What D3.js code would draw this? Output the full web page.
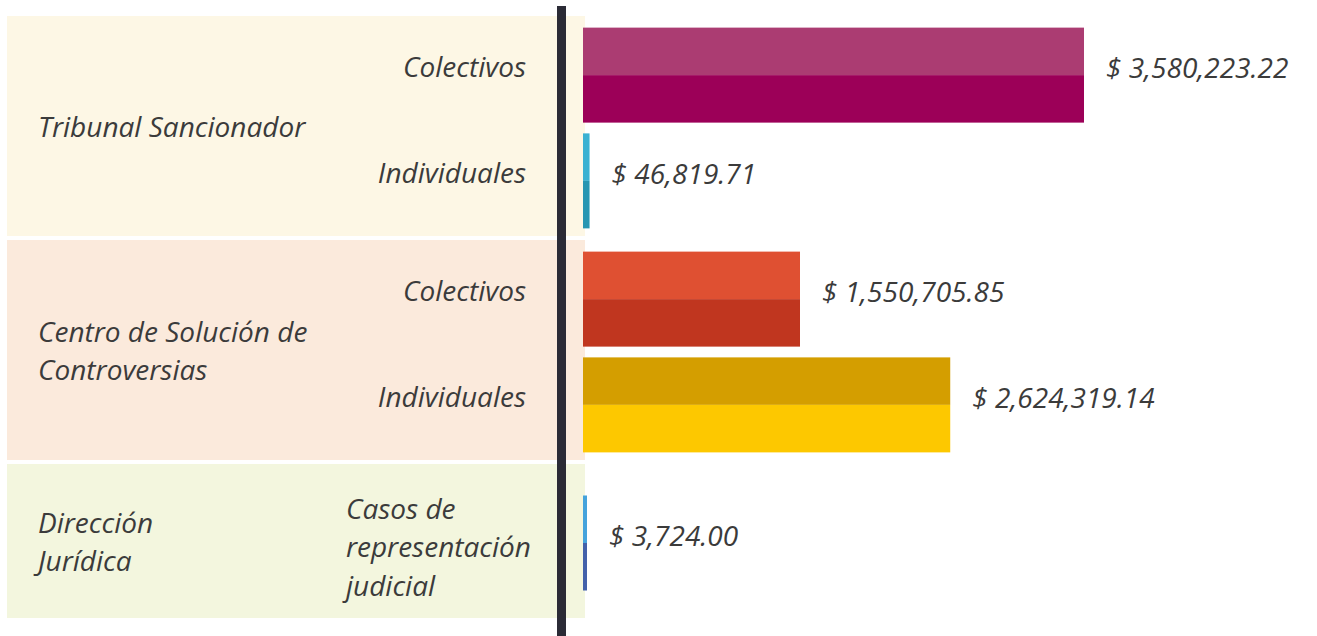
<!DOCTYPE html>
<html>
<head>
<meta charset="utf-8">
<script src="https://cdn.jsdelivr.net/npm/d3@7"></script>
<style>
  html, body { margin: 0; padding: 0; background: #ffffff; }
  svg { display: block; }
  text { font-family: "Open Sans", "Noto Sans", sans-serif; font-style: italic; fill: #3b3b3b; }
</style>
</head>
<body>
<svg id="chart" width="1317" height="636"></svg>
<script>
// ---- data ----
const groups = ["Tribunal Sancionador", "Centro de Solución de Controversias", "Dirección Jurídica"];
const groupLabelLines = [["Tribunal Sancionador"], ["Centro de Solución de", "Controversias"], ["Dirección", "Jurídica"]];
const categories = ["Colectivos", "Individuales", "Colectivos", "Individuales", "Casos de representación judicial"];
const categoryLines = [["Colectivos"], ["Individuales"], ["Colectivos"], ["Individuales"], ["Casos de", "representación", "judicial"]];
const categoryGroup = [0, 0, 1, 1, 2];
const values = [3580223.22, 46819.71, 1550705.85, 2624319.14, 3724.00];

// ---- styles ----
const panelColors = ["#fdf7e5", "#fbeadc", "#f3f6de"];
const topColors = ["#ab3c72", "#3bb1d2", "#df5032", "#d49e00", "#45a3dc"];
const bottomColors = ["#9c0058", "#2896b2", "#c0361f", "#fdc800", "#4361aa"];

// ---- layout ----
const W = 1317, H = 636;
const panelX0 = 7, panelX1 = 585;
const panelTop = 16, panelGap = 4, rowH = 110, minPanelH = 154;
const barH = 95, barShift = 2;
const fontSize = 28, lineH = 38.5;
const subLabelRight = 526, groupLabelX = 38;

const svg = d3.select("#chart");

const x = d3.scaleLinear().domain([0, d3.max(values)]).range([583, 1084]);
const fmt = v => "$ " + d3.format(",.2f")(v);
const minBar = 4;
const barW = v => Math.max(x(v) - x(0), minBar);

// compute panel extents
const panels = [];
let yCursor = panelTop;
groups.forEach((g, gi) => {
  const rows = categories.map((c, i) => i).filter(i => categoryGroup[i] === gi);
  const h = Math.max(rows.length * rowH, minPanelH);
  panels.push({ gi, rows, y0: yCursor, y1: yCursor + h });
  yCursor += h + panelGap;
});

// panel backgrounds
svg.append("g").selectAll("rect").data(panels).join("rect")
  .attr("x", panelX0).attr("y", d => d.y0)
  .attr("width", panelX1 - panelX0).attr("height", d => d.y1 - d.y0)
  .attr("fill", d => panelColors[d.gi]);

// row centers via point scales
const rowCenter = [];
panels.forEach(p => {
  const pt = d3.scalePoint().domain(p.rows).range([p.y0, p.y1]).padding(0.54);
  p.rows.forEach(i => { rowCenter[i] = pt(i) + barShift; });
});

// axis line
svg.append("line")
  .attr("x1", 561.5).attr("x2", 561.5).attr("y1", 6).attr("y2", H)
  .attr("stroke", "#2b2b36").attr("stroke-width", 9);

// group labels (one text element per line), centred on the group's rows
panels.forEach(p => {
  const lines = groupLabelLines[p.gi];
  const cy = d3.mean(p.rows, i => rowCenter[i]);
  const firstBase = cy - (lines.length - 1) * lineH / 2 + 9;
  svg.append("g").selectAll("text").data(lines).join("text")
    .attr("font-size", fontSize)
    .attr("x", groupLabelX)
    .attr("y", (ln, k) => firstBase + k * lineH)
    .text(ln => ln);
});

// sub-category labels (block right-aligned, lines left-aligned within block)
const idx = d3.range(categories.length);
idx.forEach(i => {
  const lines = categoryLines[i];
  const cy = rowCenter[i];
  const multi = lines.length > 1;
  const firstBase = cy - (lines.length - 1) * lineH / 2 + (multi ? 14 : 2);
  const texts = svg.append("g").selectAll("text").data(lines).join("text")
    .attr("font-size", fontSize)
    .attr("y", (ln, k) => firstBase + k * lineH)
    .text(ln => ln);
  if (!multi) {
    texts.attr("text-anchor", "end").attr("x", subLabelRight);
  } else {
    const maxW = d3.max(texts.nodes(), n => n.getComputedTextLength());
    texts.attr("x", subLabelRight + 5 - maxW);
  }
});

// bars (two-tone)
const barsG = svg.append("g");
barsG.selectAll("rect.top").data(idx).join("rect")
  .attr("class", "top")
  .attr("x", x(0))
  .attr("y", i => rowCenter[i] - barH / 2)
  .attr("width", i => barW(values[i]))
  .attr("height", barH / 2)
  .attr("fill", i => topColors[i]);
barsG.selectAll("rect.bottom").data(idx).join("rect")
  .attr("class", "bottom")
  .attr("x", x(0))
  .attr("y", i => rowCenter[i])
  .attr("width", i => barW(values[i]))
  .attr("height", barH / 2)
  .attr("fill", i => bottomColors[i]);

// value labels
svg.append("g").selectAll("text").data(idx).join("text")
  .attr("font-size", fontSize)
  .attr("x", i => x(0) + barW(values[i]) + 22)
  .attr("y", i => rowCenter[i] + 3)
  .text(i => fmt(values[i]));
</script>
</body>
</html>
